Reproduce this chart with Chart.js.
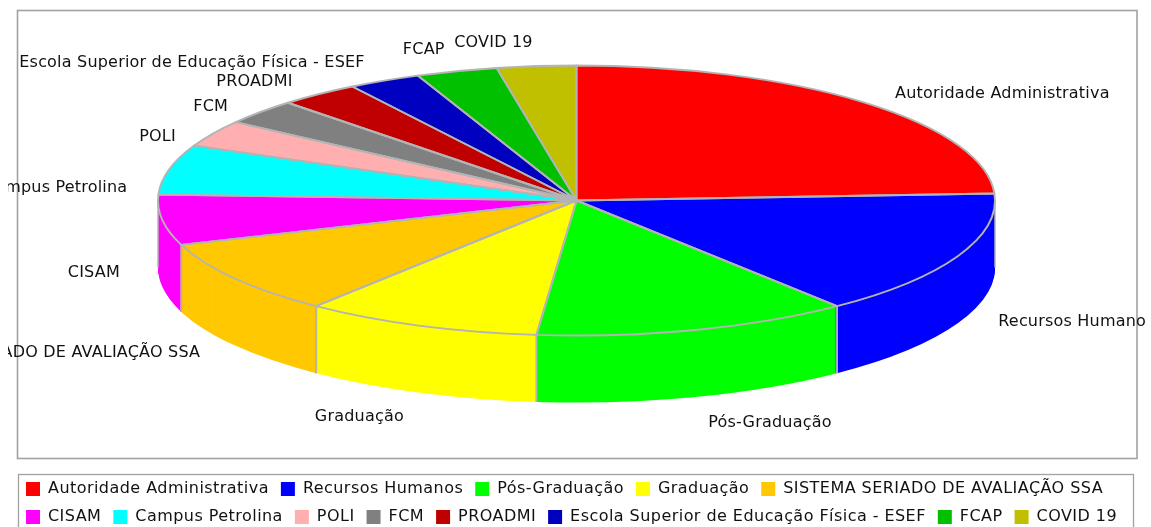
<!DOCTYPE html>
<html><head><meta charset="utf-8">
<script src="https://cdn.jsdelivr.net/npm/chart.js@4"></script>
<style>html,body{margin:0;padding:0;background:#fff;overflow:hidden;width:1151px;height:527px}
#w{position:relative;width:1151px;height:535px}canvas{display:block;filter:blur(0.55px)}</style>
</head><body><div id="w"><canvas id="c" width="1151" height="535"></canvas></div>
<script>
const categories = ['Autoridade Administrativa','Recursos Humanos','Pós-Graduação','Graduação','SISTEMA SERIADO DE AVALIAÇÃO SSA','CISAM','Campus Petrolina','POLI','FCM','PROADMI','Escola Superior de Educação Física - ESEF','FCAP','COVID 19'];
const values = [87,54.5,44,33,32.3,21.7,21.5,11.5,10.9,11.2,10.1,11.3,11];
const colors = ['#ff0000','#0000ff','#00ff00','#ffff00','#ffc800','#ff00ff','#00ffff','#ffafaf','#808080','#c00000','#0000c0','#00c000','#c0c000'];

const FONT = '16px "DejaVu Sans"', SPACING = '0.45px', LABEL_SPACING = '0.2px';
const CX = 576.5, CY = 200.5, RX = 418.5, RY = 135, DEPTH = 67;
const EDGE = '#b4b4b4', FRAME = '#a2a2a2';

const pie3d = {
  id: 'pie3d',
  beforeLayout(chart){ chart.ctx.letterSpacing = SPACING; },
  beforeDraw(chart){
    const c = chart.ctx;
    c.save(); c.fillStyle='#fff'; c.fillRect(0,0,chart.width,chart.height);
    c.strokeStyle=FRAME; c.lineWidth=1.6;
    c.strokeRect(17.5,10.5,1119.5,448);
    c.lineWidth=1.3;
    c.strokeRect(18.5,474.5,1115,80);
    c.restore();
  },
  beforeDatasetsDraw(chart){
    const c = chart.ctx, arcs = chart.getDatasetMeta(0).data;
    const k = RY/RX;
    const place = (a,d)=>{ const s=RX/a.outerRadius; c.setTransform(s,0,0,s*k,CX-a.x*s,CY+d-a.y*s*k); };
    c.save();
    for(let d=DEPTH;d>=1;d--){ arcs.forEach(a=>{ c.save(); place(a,d); a.draw(c); c.restore(); }); }
    arcs.forEach(a=>{ c.save(); place(a,0); a.draw(c); c.restore(); });
    c.setTransform(1,0,0,1,0,0);
    c.strokeStyle=EDGE; c.lineJoin='round';
    arcs.forEach(a=>{
      const s=Math.max(a.startAngle,0), e=Math.min(a.endAngle,Math.PI);
      if(e<=s) return;
      c.lineWidth=1.5;
      [s,e].forEach(t=>{
        const x=CX+RX*Math.cos(t), y=CY+RY*Math.sin(t);
        c.beginPath(); c.moveTo(x,y); c.lineTo(x,y+DEPTH); c.stroke();
      });
    });
    c.lineWidth=1.9;
    arcs.forEach(a=>{
      c.beginPath(); c.moveTo(CX,CY);
      c.ellipse(CX,CY,RX,RY,0,a.startAngle,a.endAngle);
      c.closePath(); c.stroke();
    });
    c.restore();
    return false;
  },
  afterDraw(chart){
    const c = chart.ctx, arcs = chart.getDatasetMeta(0).data;
    c.save();
    c.beginPath(); c.rect(8,11,1137,447); c.clip();
    c.font = FONT; c.letterSpacing = LABEL_SPACING; c.fillStyle='#111'; c.textBaseline='middle';
    arcs.forEach((a,i)=>{
      const m=(a.startAngle+a.endAngle)/2+Math.PI/2, sn=Math.sin(m), cs=Math.cos(m);
      const x=CX+0.5+462*sn, y=CY+(cs>=0?31-190*cs:45-185*cs);
      c.textAlign = sn>=0?'left':'right';
      c.fillText(categories[i],x,y);
    });
    c.restore();
  }
};

new Chart(document.getElementById('c'),{
  type:'pie',
  data:{labels:categories,datasets:[{data:values,backgroundColor:colors,borderWidth:0,radius:100}]},
  plugins:[pie3d],
  options:{
    responsive:false,animation:false,
    layout:{padding:{left:14,right:0,top:0,bottom:0}},
    plugins:{
      tooltip:{enabled:false},
      legend:{position:'bottom',align:'start',
        labels:{boxWidth:14,boxHeight:14,padding:12,color:'#111',font:{family:'"DejaVu Sans"',size:16}}}
    }
  }
});
</script></body></html>
